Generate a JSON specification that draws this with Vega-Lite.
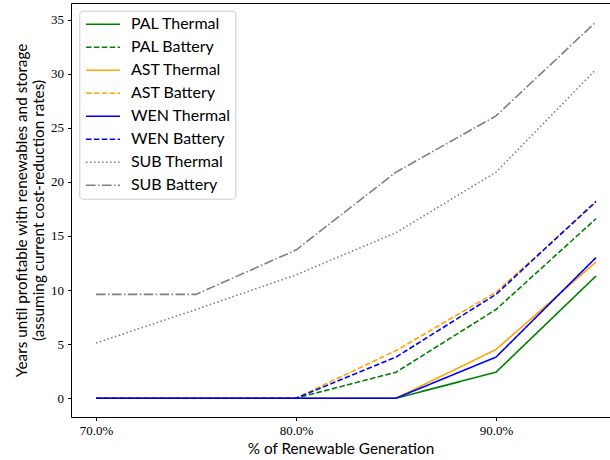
{
  "$schema": "https://vega.github.io/schema/vega-lite/v6.json",
  "width": 539,
  "height": 414,
  "autosize": {"type": "none"},
  "padding": {"left": 71, "top": 3, "right": 0, "bottom": 43},
  "background": "white",
  "config": {
    "view": {"stroke": null},
    "axis": {"grid": false, "domainColor": "#000000", "tickColor": "#000000", "labelColor": "#000000", "titleColor": "#000000", "titleFontWeight": "normal"}
  },
  "data": {
    "values": [
      {"pct": 70, "series": "PAL Thermal", "years": 0},
      {"pct": 75, "series": "PAL Thermal", "years": 0},
      {"pct": 80, "series": "PAL Thermal", "years": 0},
      {"pct": 85, "series": "PAL Thermal", "years": 0},
      {"pct": 90, "series": "PAL Thermal", "years": 2.4},
      {"pct": 95, "series": "PAL Thermal", "years": 11.3},
      {"pct": 70, "series": "PAL Battery", "years": 0},
      {"pct": 75, "series": "PAL Battery", "years": 0},
      {"pct": 80, "series": "PAL Battery", "years": 0},
      {"pct": 85, "series": "PAL Battery", "years": 2.4},
      {"pct": 90, "series": "PAL Battery", "years": 8.2},
      {"pct": 95, "series": "PAL Battery", "years": 16.6},
      {"pct": 70, "series": "AST Thermal", "years": 0},
      {"pct": 75, "series": "AST Thermal", "years": 0},
      {"pct": 80, "series": "AST Thermal", "years": 0},
      {"pct": 85, "series": "AST Thermal", "years": 0},
      {"pct": 90, "series": "AST Thermal", "years": 4.5},
      {"pct": 95, "series": "AST Thermal", "years": 12.6},
      {"pct": 70, "series": "AST Battery", "years": 0},
      {"pct": 75, "series": "AST Battery", "years": 0},
      {"pct": 80, "series": "AST Battery", "years": 0},
      {"pct": 85, "series": "AST Battery", "years": 4.4},
      {"pct": 90, "series": "AST Battery", "years": 9.8},
      {"pct": 95, "series": "AST Battery", "years": 18.1},
      {"pct": 70, "series": "WEN Thermal", "years": 0},
      {"pct": 75, "series": "WEN Thermal", "years": 0},
      {"pct": 80, "series": "WEN Thermal", "years": 0},
      {"pct": 85, "series": "WEN Thermal", "years": 0},
      {"pct": 90, "series": "WEN Thermal", "years": 3.8},
      {"pct": 95, "series": "WEN Thermal", "years": 13.0},
      {"pct": 70, "series": "WEN Battery", "years": 0},
      {"pct": 75, "series": "WEN Battery", "years": 0},
      {"pct": 80, "series": "WEN Battery", "years": 0},
      {"pct": 85, "series": "WEN Battery", "years": 3.8},
      {"pct": 90, "series": "WEN Battery", "years": 9.6},
      {"pct": 95, "series": "WEN Battery", "years": 18.2},
      {"pct": 70, "series": "SUB Thermal", "years": 5.1},
      {"pct": 75, "series": "SUB Thermal", "years": 8.2},
      {"pct": 80, "series": "SUB Thermal", "years": 11.4},
      {"pct": 85, "series": "SUB Thermal", "years": 15.3},
      {"pct": 90, "series": "SUB Thermal", "years": 20.9},
      {"pct": 95, "series": "SUB Thermal", "years": 30.4},
      {"pct": 70, "series": "SUB Battery", "years": 9.6},
      {"pct": 75, "series": "SUB Battery", "years": 9.6},
      {"pct": 80, "series": "SUB Battery", "years": 13.7},
      {"pct": 85, "series": "SUB Battery", "years": 20.9},
      {"pct": 90, "series": "SUB Battery", "years": 26.1},
      {"pct": 95, "series": "SUB Battery", "years": 34.8}
    ]
  },
  "layer": [
    {
      "mark": {"type": "line", "strokeWidth": 1.6, "clip": true},
      "encoding": {
        "x": {
          "field": "pct", "type": "quantitative",
          "scale": {"domain": [68.75, 95.7], "nice": false, "zero": false},
          "axis": {
            "values": [70, 80, 90],
            "labelExpr": "format(datum.value, '.1f') + '%'",
            "title": "% of Renewable Generation",
            "tickSize": 3.5, "labelPadding": 4,
            "labelFont": "Liberation Serif", "labelFontSize": 13,
            "titleFont": "Lato", "titleFontSize": 15.3, "titlePadding": 4
          }
        },
        "y": {
          "field": "years", "type": "quantitative",
          "scale": {"domain": [-1.74, 36.54], "nice": false, "zero": false},
          "axis": {
            "values": [0, 5, 10, 15, 20, 25, 30, 35],
            "title": ["Years until profitable with renewables and storage", "(assuming current cost-reduction rates)"],
            "tickSize": 3.5, "labelPadding": 4,
            "labelFont": "Liberation Serif", "labelFontSize": 13,
            "titleFont": "Lato", "titleFontSize": 15.3, "titleLineHeight": 17, "titlePadding": 4
          }
        },
        "color": {
          "field": "series", "type": "nominal",
          "scale": {
            "domain": ["PAL Thermal", "PAL Battery", "AST Thermal", "AST Battery", "WEN Thermal", "WEN Battery", "SUB Thermal", "SUB Battery"],
            "range": ["#008000", "#008000", "#FFA500", "#FFA500", "#0000FF", "#0000FF", "#808080", "#808080"]
          },
          "legend": {
            "title": null, "orient": "none", "legendX": 8.3, "legendY": 7.7,
            "symbolType": "M-0.86,0L3.39,0", "symbolSize": 256, "symbolStrokeWidth": 1.6, "symbolFillColor": "transparent",
            "labelFont": "Lato", "labelFontSize": 16, "labelColor": "#000000", "labelOffset": 29,
            "rowPadding": 6, "padding": 4.6, "strokeColor": "#cccccc", "fillColor": "white", "cornerRadius": 3
          }
        },
        "strokeDash": {
          "field": "series", "type": "nominal",
          "scale": {
            "domain": ["PAL Thermal", "PAL Battery", "AST Thermal", "AST Battery", "WEN Thermal", "WEN Battery", "SUB Thermal", "SUB Battery"],
            "range": [[1, 0], [5.5, 2.4], [1, 0], [5.5, 2.4], [1, 0], [5.5, 2.4], [1.5, 2.5], [9.6, 2.4, 1.5, 2.4]]
          },
          "legend": {
            "title": null, "orient": "none", "legendX": 8.3, "legendY": 7.7,
            "symbolType": "M-0.86,0L3.39,0", "symbolSize": 256, "symbolStrokeWidth": 1.6, "symbolFillColor": "transparent",
            "labelFont": "Lato", "labelFontSize": 16, "labelColor": "#000000", "labelOffset": 29,
            "rowPadding": 6, "padding": 4.6, "strokeColor": "#cccccc", "fillColor": "white", "cornerRadius": 3
          }
        }
      }
    },
    {
      "mark": {"type": "point", "opacity": 0},
      "encoding": {
        "x": {
          "field": "pct", "type": "quantitative",
          "axis": {"orient": "top", "labels": false, "ticks": false, "title": null}
        },
        "y": {"field": "years", "type": "quantitative"}
      }
    }
  ],
  "resolve": {"axis": {"x": "independent"}}
}
